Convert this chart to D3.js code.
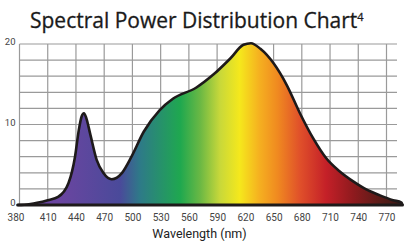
<!DOCTYPE html>
<html>
<head>
<meta charset="utf-8">
<script src="https://cdn.jsdelivr.net/npm/d3@7"></script>
<style>
  body { margin: 0; background: #fff; }
  text { font-family: Roboto, "Open Sans", sans-serif; }
</style>
</head>
<body>
<div id="chart"></div>
<script>
// spectrum readings (nm, relative power)
var wavelengths = [378, 390, 400, 410, 421, 432, 439, 443, 446, 448.5, 451, 455, 462, 469, 478, 489, 499, 512, 529, 543, 568, 586, 604, 618, 626, 636, 650, 664, 678, 692, 706, 721, 735, 749, 763, 777, 786];
var power = [0, 0.1, 0.3, 0.6, 1.0, 2.7, 6.0, 9.3, 11.0, 11.4, 10.8, 8.9, 5.6, 4.0, 3.2, 4.0, 6.0, 9.1, 11.8, 13.2, 14.6, 16.2, 18.2, 19.9, 20.1, 19.4, 17.6, 14.9, 11.4, 8.3, 5.8, 4.1, 2.9, 1.9, 1.2, 0.6, 0.3];
var xTicks = [380, 410, 440, 470, 500, 530, 560, 590, 620, 650, 680, 710, 740, 770];
var yTicks = [0, 10, 20];
var yGrid = [0, 2, 4, 6, 8, 10, 12, 14, 16, 18, 20];

var W = 409, H = 244;
var x = d3.scaleLinear().domain([380, 770]).range([19.5, 386.5]);
var y = d3.scaleLinear().domain([0, 20]).range([205, 44]);

var gradStops = [
  [380, '#6a44a2'], [423, '#6a45a0'], [487, '#4a4a9a'], [508, '#2e7a88'],
  [551, '#1fa84f'], [572, '#6ab844'], [593, '#c8d83a'], [614, '#f5e81c'],
  [635, '#f5b020'], [654, '#f08a20'], [678, '#e0502a'], [706, '#c42028'],
  [734, '#901a1e'], [763, '#5a1c18'], [786, '#3a1a16']
];

var svg = d3.select('#chart').append('svg')
    .attr('width', W)
    .attr('height', H);

var grad = svg.append('defs').append('linearGradient')
    .attr('id', 'spectrum')
    .attr('gradientUnits', 'userSpaceOnUse')
    .attr('x1', x(380)).attr('x2', x(786))
    .attr('y1', 0).attr('y2', 0);
grad.selectAll('stop').data(gradStops).enter().append('stop')
    .attr('offset', function(d) { return (x(d[0]) - x(380)) / (x(786) - x(380)); })
    .attr('stop-color', function(d) { return d[1]; });

// grid
svg.append('g')
    .attr('class', 'grid')
    .selectAll('line.h').data(yGrid).enter().append('line')
    .attr('x1', x(380)).attr('x2', 397)
    .attr('y1', function(d) { return y(d); })
    .attr('y2', function(d) { return y(d); })
    .style('stroke', '#9a9a9a').style('stroke-width', '1.2px');

svg.append('g')
    .selectAll('line.v').data(xTicks).enter().append('line')
    .attr('x1', function(d) { return x(d); })
    .attr('x2', function(d) { return x(d); })
    .attr('y1', y(20)).attr('y2', y(0))
    .style('stroke', '#9a9a9a').style('stroke-width', '1.2px');

var pts = wavelengths.map(function(w, i) { return { nm: w, p: power[i] }; });
pts.push({ nm: 787, p: 0 });

var area = d3.area()
    .x(function(d) { return x(d.nm); })
    .y0(y(0))
    .y1(function(d) { return y(d.p); })
    .curve(d3.curveMonotoneX);

var line = d3.line()
    .x(function(d) { return x(d.nm); })
    .y(function(d) { return y(d.p); })
    .curve(d3.curveMonotoneX);

svg.append('path')
    .datum(pts)
    .attr('d', area)
    .attr('fill', 'url(#spectrum)');

svg.append('path')
    .datum(pts)
    .attr('d', line)
    .attr('fill', 'none')
    .style('stroke', '#1e1a1a')
    .style('stroke-width', '2.6px')
    .style('stroke-linejoin', 'round');

// baseline
svg.append('line')
    .attr('x1', x(378)).attr('x2', x(787))
    .attr('y1', y(0)).attr('y2', y(0))
    .style('stroke', '#1e1a1a')
    .style('stroke-width', '3px')
    .style('stroke-linecap', 'round');

// axes (labels only)
var xAxis = d3.axisBottom(x).tickValues(xTicks).tickSize(0).tickPadding(9);
var gx = svg.append('g')
    .attr('transform', 'translate(0,' + y(0) + ')')
    .call(xAxis);
gx.select('.domain').remove();
gx.selectAll('text')
    .style('font-size', '10px')
    .style('fill', '#444')
    .attr('dx', function(d) { return d === 380 ? '-0.4em' : 0; });

var yAxis = d3.axisLeft(y).tickValues(yTicks).tickSize(0).tickPadding(4);
var gy = svg.append('g')
    .attr('transform', 'translate(' + x(380) + ',0)')
    .call(yAxis);
gy.select('.domain').remove();
gy.selectAll('text')
    .style('font-size', '9.5px')
    .style('fill', '#444')
    .attr('dy', '0.1em');

svg.append('text')
    .attr('x', 199.5)
    .attr('y', 237.5)
    .attr('text-anchor', 'middle')
    .style('font-size', '12.5px')
    .style('fill', '#222')
    .text('Wavelength (nm)');

var title = svg.append('text')
    .attr('x', 30)
    .attr('y', 27.5)
    .style('font-family', '"Open Sans", sans-serif')
    .style('font-size', '21px')
    .style('fill', '#1a1a1a')
    .style('stroke', '#1a1a1a')
    .style('stroke-width', '0.3px')
    .text('Spectral Power Distribution Chart');
title.append('tspan')
    .attr('dy', '-0.55em')
    .style('font-size', '11px')
    .text('4');
</script>
</body>
</html>
